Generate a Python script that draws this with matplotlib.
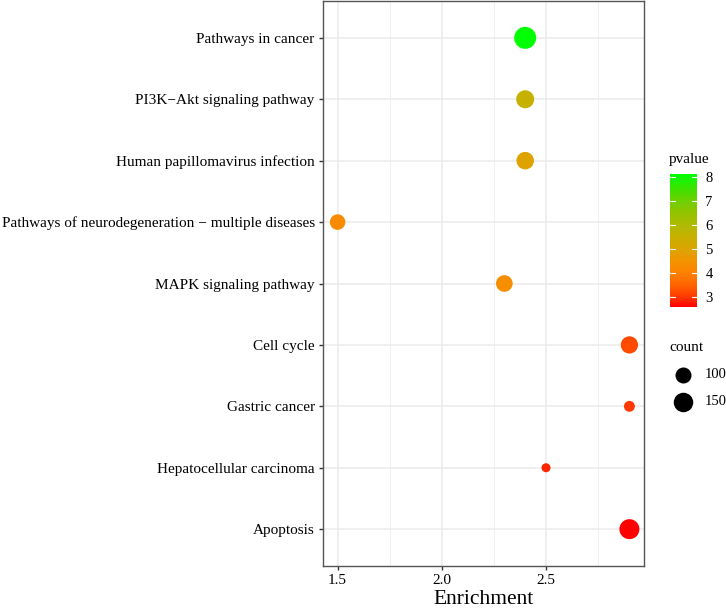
import numpy as np
import matplotlib
matplotlib.use("Agg")
import matplotlib.pyplot as plt
from matplotlib.colors import LinearSegmentedColormap, Normalize

# ---------------- data ----------------
pathways = ["Pathways in cancer", "PI3K\u2212Akt signaling pathway",
            "Human papillomavirus infection",
            "Pathways of neurodegeneration \u2212 multiple diseases",
            "MAPK signaling pathway", "Cell cycle", "Gastric cancer",
            "Hepatocellular carcinoma", "Apoptosis"]
enrichment = [2.40, 2.40, 2.40, 1.50, 2.30, 2.90, 2.90, 2.50, 2.90]
pvalue = [8.14, 5.55, 4.95, 4.25, 4.35, 3.20, 3.00, 2.85, 2.58]
count = [198, 126, 119, 95, 108, 116, 63, 60, 159]
legend_counts = [100, 150]
x_ticks = [1.5, 2.0, 2.5]
p_ticks = [3, 4, 5, 6, 7, 8]

plt.rcParams['font.family'] = ['Liberation Serif', 'DejaVu Serif']

pmin, pmax = min(pvalue), max(pvalue)
norm = Normalize(pmin, pmax)
# red -> green gradient (perceptual-looking ramp as in the reference)
anchor_vals = [2.58, 3.0, 3.5, 4.0, 4.5, 5.0, 5.5, 6.0, 6.5, 7.0, 7.5, 8.14]
anchor_cols = ["#FF0000", "#FF3A00", "#FF6400", "#FF8200", "#F29400", "#DCA400",
               "#C8B000", "#B0BA00", "#94C400", "#70D000", "#40E000", "#00FF00"]
cmap = LinearSegmentedColormap.from_list(
    "rg", [((v - pmin) / (pmax - pmin), c) for v, c in zip(anchor_vals, anchor_cols)])

# ---------------- size scale ----------------
cmin, cmax = min(count), max(count)
def size_pts2(c):
    c = np.asarray(c, float)
    d_px = 9 + 13 * np.sqrt((c - cmin) / (cmax - cmin))
    return (d_px * 0.72) ** 2

# ---------------- figure ----------------
W, H = 726, 608
fig = plt.figure(figsize=(W / 100, H / 100), dpi=100)
ax = fig.add_axes([323 / W, 1 - 566 / H, (644 - 323) / W, (566 - 1) / H])

ypos = np.arange(len(pathways))[::-1]
ax.scatter(enrichment, ypos, s=size_pts2(count), c=pvalue, cmap=cmap, norm=norm,
           linewidths=0, zorder=3)

xr = max(enrichment) - min(enrichment)
ax.set_xlim(min(enrichment) - 0.05 * xr, max(enrichment) + 0.05 * xr)
ax.set_ylim(-0.6, len(pathways) - 1 + 0.6)
ax.set_yticks(ypos)
ax.set_yticklabels(pathways)
ax.set_xticks(x_ticks)
ax.set_xticklabels([f"{v:.1f}" for v in x_ticks])
ax.set_xticks([1.75, 2.25, 2.75], minor=True)
ax.grid(True, which='major', color='#EBEBEB', linewidth=1.1, zorder=0)
ax.grid(True, which='minor', axis='x', color='#EBEBEB', linewidth=0.55, zorder=0)
ax.set_axisbelow(True)
for sp in ax.spines.values():
    sp.set_color('#555555')
    sp.set_linewidth(1.0)
ax.tick_params(axis='both', which='major', length=3, width=1.0, color='#333333',
               labelsize=11, labelcolor='black', pad=3)
ax.tick_params(axis='x', which='minor', length=0)
ax.set_xlabel("Enrichment", fontsize=15.5, labelpad=2)

# ---------------- colorbar legend ----------------
cb_l, cb_r, cb_t, cb_b = 670, 697, 174, 307
cax = fig.add_axes([cb_l / W, 1 - cb_b / H, (cb_r - cb_l) / W, (cb_b - cb_t) / H])
grad = np.linspace(pmin, pmax, 256).reshape(-1, 1)
cax.imshow(grad, aspect='auto', cmap=cmap, norm=norm, origin='lower',
           extent=[0, 1, pmin, pmax])
cax.set_xlim(0, 1)
cax.set_ylim(pmin, pmax)
cax.set_xticks([])
cax.yaxis.tick_right()
cax.set_yticks(p_ticks)
cax.tick_params(axis='y', length=0, labelsize=10.5, pad=6)
for sp in cax.spines.values():
    sp.set_visible(False)
for v in p_ticks:
    cax.plot([0, 0.2], [v, v], color='white', lw=0.8)
    cax.plot([0.8, 1], [v, v], color='white', lw=0.8)
fig.text(669 / W, 1 - 160 / H, "pvalue", fontsize=11, ha='left', va='center')

# ---------------- size legend ----------------
fig.text(669 / W, 1 - 348 / H, "count", fontsize=11, ha='left', va='center')
lax = fig.add_axes([660 / W, 1 - 415 / H, 60 / W, 55 / H])
lax.set_xlim(0, 60)
lax.set_ylim(55, 0)
lax.axis('off')
for i, c in enumerate(legend_counts):
    yy = 15 + i * 26.5
    lax.scatter([23], [yy], s=size_pts2(c), color='black', linewidths=0)
    lax.text(45, yy, str(c), fontsize=10.5, ha='left', va='center')

fig.savefig("out.png", dpi=100)
